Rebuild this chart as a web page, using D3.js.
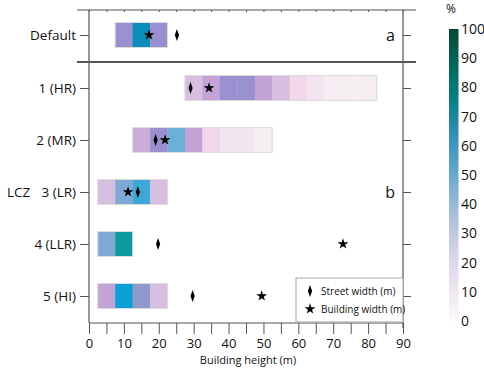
<!DOCTYPE html>
<html>
<head>
<meta charset="utf-8">
<script src="https://cdn.jsdelivr.net/npm/d3@7"></script>
<style>
  body { margin: 0; background: #fff; }
  text { font-family: "Open Sans", "Noto Sans", sans-serif; fill: #111; }
  .axis path { display: none; }
  .axis line { stroke: #555; }
</style>
</head>
<body>
<div id="wrapper"></div>
<script>
// data
const zones = ["Default", "1 (HR)", "2 (MR)", "3 (LR)", "4 (LLR)", "5 (HI)"]
// left edge (m) of the first 5 m height bin of each zone
const firstBin = [7.5, 27.5, 12.5, 2.5, 2.5, 2.5]
// share (%) of buildings in each 5 m height bin
const binShares = [
  [25, 60, 25],
  [15, 20, 25, 25, 20, 15, 10, 5, 3, 3, 3],
  [18, 25, 42, 20, 10, 5, 5, 3],
  [15, 38, 50, 15],
  [38, 65],
  [20, 55, 30, 15],
]
const streetWidth = [25.2, 29.1, 19.1, 14, 19.8, 29.7]
const buildingWidth = [17.2, 34.4, 21.8, 11.2, 72.8, 49.5]
const xTicks = [0, 5, 10, 15, 20, 25, 30, 35, 40, 45, 50, 55, 60, 65, 70, 75, 80, 85, 90]
const colorTicks = [0, 10, 20, 30, 40, 50, 60, 70, 80, 90, 100]
const binWidth = 5

function drawChart() {
  const dimensions = {
    width: 484,
    height: 373,
    left: 89,
    right: 403,
    top: 10,
    split: 62,
    bottom: 323,
  }

  const svg = d3.select("#wrapper")
    .append("svg")
      .attr("width", dimensions.width)
      .attr("height", dimensions.height)

  // scales
  const xScale = d3.scaleLinear()
    .domain([0, 90])
    .range([dimensions.left, dimensions.right])

  const topScale = d3.scalePoint()
    .domain(zones.slice(0, 1))
    .range([dimensions.top, dimensions.split - 2])
    .padding(0.5)

  const bottomScale = d3.scalePoint()
    .domain(zones.slice(1))
    .range([dimensions.split, dimensions.bottom - 1])
    .padding(0.5)

  const yOf = z => z == zones[0] ? topScale(z) : bottomScale(z)

  const cellColor = d3.scaleLinear()
    .domain([0, 3, 5, 10, 15, 20, 25, 30, 38, 42, 50, 55, 60, 65, 100])
    .range(["#f7f1f5", "#f5eef3", "#f2e5ef", "#f2d7eb", "#d5bee0", "#c3a2d5", "#9a90d0",
            "#8e99cc", "#80a8d5", "#6ab0d6", "#3ea8d5", "#0aa0d5", "#0a8db8", "#0a9a9f", "#014636"])

  const barHeight = 25

  // bars
  const rows = svg.append("g").selectAll("g")
    .data(zones)
    .join("g")
      .attr("transform", z => `translate(0, ${yOf(z)})`)

  rows.selectAll("rect.cell")
    .data((z, i) => binShares[i].map((v, j) => ({ start: firstBin[i] + j * binWidth, value: v })))
    .join("rect")
      .attr("class", "cell")
      .attr("x", d => xScale(d.start))
      .attr("width", d => xScale(d.start + binWidth) - xScale(d.start) + 0.3)
      .attr("y", -barHeight / 2)
      .attr("height", barHeight)
      .attr("fill", d => cellColor(d.value))

  rows.append("rect")
      .attr("x", (z, i) => xScale(firstBin[i]))
      .attr("width", (z, i) => xScale(firstBin[i] + binShares[i].length * binWidth) - xScale(firstBin[i]))
      .attr("y", -barHeight / 2)
      .attr("height", barHeight)
      .attr("fill", "none")
      .attr("stroke", "#dcdcdc")
      .attr("stroke-width", 1)

  // markers
  const diamond = d3.symbol().type(d3.symbolDiamond).size(40)
  const star = d3.symbol().type(d3.symbolStar).size(36)

  rows.append("path")
      .attr("d", diamond)
      .attr("transform", (z, i) => `translate(${xScale(streetWidth[i])}, 0) scale(0.62, 1)`)
      .attr("fill", "#000")

  rows.append("path")
      .attr("d", star)
      .attr("transform", (z, i) => `translate(${xScale(buildingWidth[i])}, 0)`)
      .attr("fill", "#000")

  // frame lines
  const frame = svg.append("g").attr("stroke", "#555").attr("fill", "none")
  frame.append("line")
      .attr("x1", 77).attr("x2", 416)
      .attr("y1", dimensions.top).attr("y2", dimensions.top)
      .attr("stroke-width", 1.2)
  frame.append("line")
      .attr("x1", 77).attr("x2", 416)
      .attr("y1", dimensions.split).attr("y2", dimensions.split)
      .attr("stroke-width", 2)
  frame.append("line")
      .attr("x1", dimensions.left).attr("x2", dimensions.left)
      .attr("y1", dimensions.top).attr("y2", dimensions.bottom)
      .attr("stroke-width", 1.2)
  frame.append("line")
      .attr("x1", dimensions.right).attr("x2", dimensions.right)
      .attr("y1", dimensions.top).attr("y2", dimensions.bottom + 5)
      .attr("stroke-width", 1.2)
  frame.append("line")
      .attr("x1", dimensions.left).attr("x2", dimensions.right)
      .attr("y1", dimensions.bottom).attr("y2", dimensions.bottom)
      .attr("stroke-width", 1.2)

  // axes
  const xAxisGenerator = d3.axisBottom(xScale)
    .tickValues(xTicks)
    .tickSize(11)
    .tickPadding(5)
    .tickFormat(d => d % 10 == 0 ? d : "")

  const xAxis = svg.append("g")
      .attr("class", "axis x-axis")
      .attr("transform", `translate(0, ${dimensions.bottom})`)
    .call(xAxisGenerator)

  svg.append("g")
      .attr("class", "axis")
      .attr("transform", `translate(0, ${dimensions.top})`)
    .call(d3.axisBottom(xScale).tickValues(xTicks).tickSize(2).tickFormat(""))

  svg.append("g")
      .attr("class", "axis")
      .attr("transform", `translate(${dimensions.left}, 0)`)
    .call(d3.axisLeft(topScale).tickSize(9).tickPadding(4))
  svg.append("g")
      .attr("class", "axis")
      .attr("transform", `translate(${dimensions.left}, 0)`)
    .call(d3.axisLeft(bottomScale).tickSize(9).tickPadding(4))
  svg.selectAll(".axis text").style("font-size", "13.5px").attr("fill", "#111")
  xAxis.selectAll("text").style("font-size", "13px")

  svg.append("g")
      .attr("class", "axis")
      .attr("transform", `translate(${dimensions.right}, 0)`)
    .call(d3.axisRight(topScale).tickSize(8).tickFormat(""))
  svg.append("g")
      .attr("class", "axis")
      .attr("transform", `translate(${dimensions.right}, 0)`)
    .call(d3.axisRight(bottomScale).tickSize(8).tickFormat(""))

  svg.append("text")
      .attr("x", (dimensions.left + dimensions.right) / 2 + 2)
      .attr("y", 364)
      .attr("text-anchor", "middle")
      .style("font-size", "11px")
      .text("Building height (m)")

  svg.append("text")
      .attr("x", 7)
      .attr("y", yOf(zones[3]))
      .attr("dy", "0.35em")
      .style("font-size", "13.5px")
      .text("LCZ")

  svg.append("text")
      .attr("x", 395)
      .attr("y", yOf(zones[0]))
      .attr("dy", "0.35em")
      .attr("text-anchor", "end")
      .style("font-size", "16px")
      .text("a")

  svg.append("text")
      .attr("x", 395)
      .attr("y", yOf(zones[3]))
      .attr("dy", "0.35em")
      .attr("text-anchor", "end")
      .style("font-size", "16px")
      .text("b")

  // legend
  const legend = svg.append("g").attr("transform", "translate(296, 278)")
  legend.append("rect")
      .attr("width", dimensions.right - 296)
      .attr("height", 44)
      .attr("fill", "#fff")
      .attr("stroke", "#aaa")
  legend.append("path")
      .attr("d", diamond)
      .attr("transform", "translate(14, 13) scale(0.62, 1)")
  legend.append("path")
      .attr("d", star)
      .attr("transform", "translate(14, 31)")
  legend.append("text")
      .attr("x", 25).attr("y", 13).attr("dy", "0.35em")
      .style("font-size", "10px")
      .text("Street width (m)")
  legend.append("text")
      .attr("x", 25).attr("y", 31).attr("dy", "0.35em")
      .style("font-size", "10px")
      .text("Building width (m)")

  // colour bar
  const barScale = d3.scaleLinear()
    .domain([0, 100])
    .range([321, 29])

  const gradient = svg.append("defs").append("linearGradient")
      .attr("id", "bar-gradient")
      .attr("x1", 0).attr("x2", 0)
      .attr("y1", 1).attr("y2", 0)
  gradient.selectAll("stop")
    .data(d3.range(0, 1.001, 0.05))
    .join("stop")
      .attr("offset", d => d)
      .attr("stop-color", d => d3.interpolatePuBuGn(d))

  svg.append("rect")
      .attr("x", 449)
      .attr("y", barScale(100))
      .attr("width", 9.5)
      .attr("height", barScale(0) - barScale(100))
      .attr("fill", "url(#bar-gradient)")

  svg.append("g").selectAll("text")
    .data(colorTicks)
    .join("text")
      .attr("x", 461)
      .attr("y", d => barScale(d))
      .attr("dy", "0.35em")
      .style("font-size", "14px")
      .text(d => d)

  svg.append("text")
      .attr("x", 446)
      .attr("y", 9)
      .attr("dy", "0.35em")
      .style("font-size", "12px")
      .text("%")
}
drawChart()
</script>
</body>
</html>
